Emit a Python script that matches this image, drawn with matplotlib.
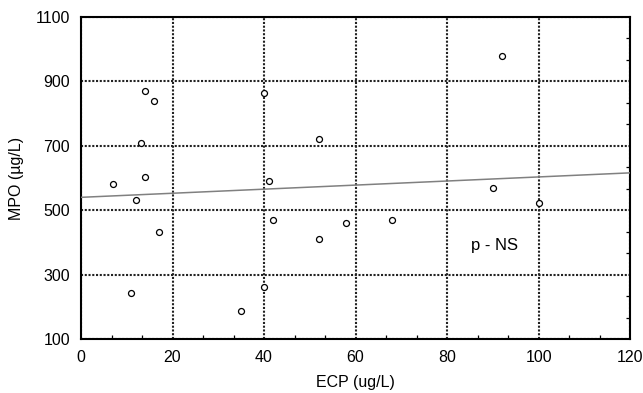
import matplotlib.pyplot as plt
from matplotlib.ticker import FixedLocator

plt.rcParams['font.family'] = ['Liberation Sans', 'DejaVu Sans']

# scatter points: ECP vs MPO
ecp = [7, 14, 16, 13, 14, 40, 41, 52, 92, 90, 12, 17, 11, 35, 40, 42, 52, 58, 68, 100]
mpo = [581, 871, 838, 710, 602, 863, 590, 722, 979, 569, 532, 432, 242, 188, 263, 470, 412, 461, 470, 523]

# regression line end points
fit_x = [0, 120]
fit_y = [540, 616]

x_ticks = [0, 20, 40, 60, 80, 100, 120]
y_ticks = [100, 300, 500, 700, 900, 1100]

fig = plt.figure(figsize=(6.43, 3.93), dpi=100)
ax = fig.add_axes([0.126, 0.1374, 0.854, 0.8193])

ax.plot(fit_x, fit_y, color='#808080', lw=1.1, zorder=3)
ax.plot(ecp, mpo, 'o', mfc='white', mec='black', ms=4.3, mew=0.9, zorder=4, linestyle='none')

ax.set_xlim(0, 120)
ax.set_ylim(100, 1100)
ax.set_xticks(x_ticks)
ax.set_yticks(y_ticks)
ax.xaxis.set_minor_locator(FixedLocator([i * 20 / 3 for i in range(19)]))
ax.yaxis.set_minor_locator(FixedLocator([100 + i * 200 / 3 for i in range(16)]))

ax.grid(True, which='major', color='#222222', linestyle=(0, (1, 0.8)), lw=1.5)
ax.tick_params(which='major', length=0, labelsize=11.5, pad=8)
ax.tick_params(which='minor', direction='in', length=3, width=0.9,
               bottom=True, left=False, right=True, top=False)

for s in ax.spines.values():
    s.set_linewidth(1.5)

ax.set_xlabel('ECP (ug/L)', fontsize=11.5, labelpad=7)
ax.set_ylabel('MPO (µg/L)', fontsize=11.5, labelpad=8)

ax.text(85.3, 389, 'p - NS', fontsize=12, va='center', ha='left')

fig.savefig('out.png', dpi=100)
